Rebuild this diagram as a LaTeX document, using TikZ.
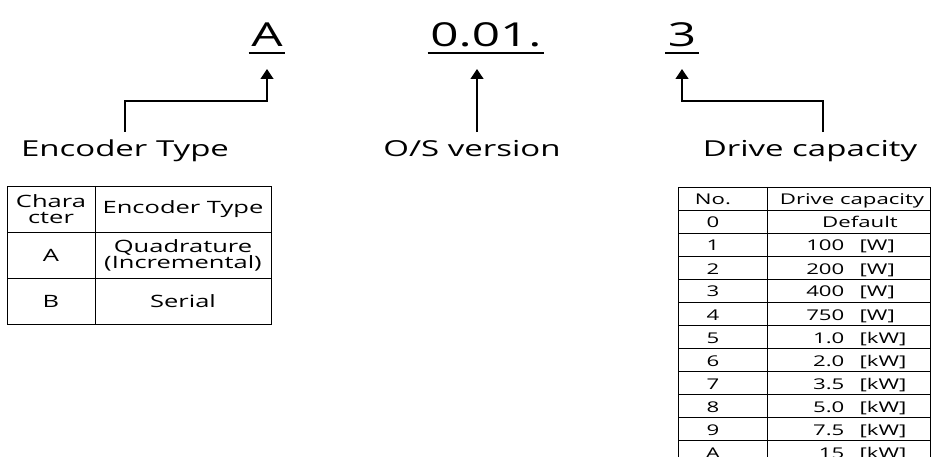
\documentclass[tikz,border=0pt]{standalone}
\usepackage{fontspec}
\setmainfont{Open Sans}[FakeStretch=1.5]
\usetikzlibrary{arrows.meta, positioning, calc}
\tikzset{
  every picture/.style={line width=1.3pt, x=1pt, y=-1pt},
  code/.style={font=\fontsize{33}{36}\selectfont, anchor=base, inner xsep=2pt},
  uline/.style={line width=1.6pt},
  lbl/.style={font=\fontsize{22}{26}\selectfont, anchor=base, inner ysep=8pt},
  arrow/.style={-{Triangle[length=10pt, width=13pt]}, line width=1.3pt},
  grid/.style={line width=0.9pt},
  big/.style={font=\fontsize{17}{16}\selectfont, align=center, inner sep=0pt},
  small/.style={font=\fontsize{14.8}{16}\selectfont, anchor=base, inner sep=0pt},
}
\begin{document}
\begin{tikzpicture}
  \useasboundingbox (0,0) rectangle (932,457);
  % code letters
  \node[code] (cType) at (267,47) {A};
  \node[code] (cVer) at (486,47) {0.01.};
  \node[code] (cCap) at (682,47) {3};
  \foreach \c in {cType, cVer, cCap}
    \draw[uline] ([yshift=-6pt]\c.base west) -- ([yshift=-6pt]\c.base east);
  % labels
  \node[lbl] (lType) at (125,157) {Encoder Type};
  \node[lbl] (lVer) at (472,157) {O/S version};
  \node[lbl] (lCap) at (810,157) {Drive capacity};
  \draw[arrow] (lType.north) |- ([yshift=-54pt]cType.base) -- ([yshift=-22pt]cType.base);
  \draw[arrow] ([xshift=5pt]lVer.north) -- ([xshift=-9pt, yshift=-22pt]cVer.base);
  \draw[arrow] ([xshift=13pt]lCap.north) |- ([yshift=-54pt]cCap.base) -- ([yshift=-22pt]cCap.base);
  % encoder table
  \draw[grid] (7,186) rectangle (271,324);
  \draw[grid] (95,186) -- (95,324);
  \foreach \y in {232,278}
    \draw[grid] (7,\y) -- (271,\y);
  \node[big] (eHeadA) at (51,209) {Chara\\cter};
  \node[big] (eHeadB) at (183,209) {Encoder Type};
  \node[big] (eA) at (51,255) {A};
  \node[big] (eQuad) at (183,255) {Quadrature\\(Incremental)};
  \node[big] (eB) at (51,301) {B};
  \node[big] (eSer) at (183,301) {Serial};
  % capacity table
  \draw[grid] (678,187) rectangle (930,463);
  \draw[grid] (767,187) -- (767,463);
  \foreach \i in {1,...,11}
    \draw[grid] (678,{187+23*\i}) -- (930,{187+23*\i});
  \node[small] (dHeadA) at (713,205) {No.};
  \node[small] (dHeadB) at (852,205) {Drive capacity};
  \node[small] (dNo0) at (713,228) {0};
  \node[small] (dVal0) at (860,228) {Default};
  \foreach \n/\v/\u [count=\k from 2] in {1/100/[W], 2/200/[W], 3/400/[W], 4/750/[W],
      5/1.0/[kW], 6/2.0/[kW], 7/3.5/[kW], 8/5.0/[kW], 9/7.5/[kW], A/15/[kW]} {
    \node[small] (dNo\n) at (713,{205+23*\k}) {\n};
    \node[small, anchor=base east] (dVal\n) at (845,{205+23*\k}) {\v};
    \node[small, anchor=base west] (dUnit\n) at (859,{205+23*\k}) {\u};
  }
\end{tikzpicture}
\end{document}
